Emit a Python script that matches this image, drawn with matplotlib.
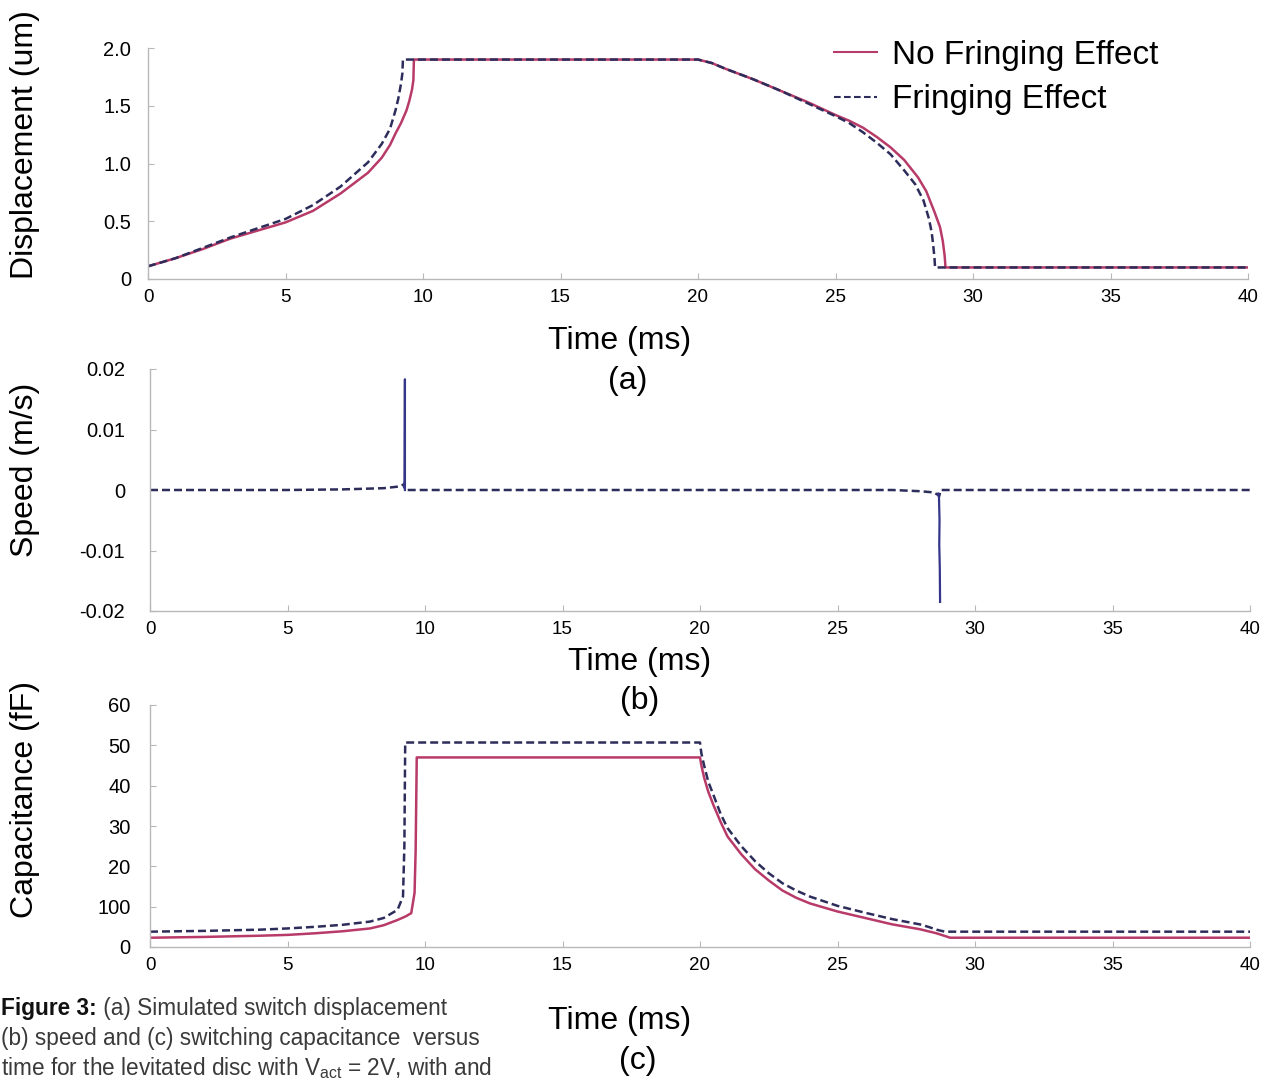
import matplotlib
matplotlib.use("Agg")
import matplotlib.pyplot as plt

plt.rcParams['font.family'] = ['Liberation Sans', 'DejaVu Sans']

W, H = 1265, 1081

# ---------------- data ----------------
# (a) displacement (um)
disp_nf_t = [0, 1, 2, 3, 4, 5, 6, 7, 8, 8.5, 8.8, 9, 9.2, 9.4, 9.5, 9.6, 9.65, 9.67, 15, 20, 20.5, 21, 22, 23,
             24, 25, 25.5, 26, 26.5, 27, 27.5, 28, 28.3, 28.6, 28.8, 28.9, 28.97, 29.0, 35, 40]
disp_nf_v = [0.11, 0.18, 0.26, 0.35, 0.42, 0.49, 0.59, 0.74, 0.92, 1.05, 1.16, 1.26, 1.35, 1.46, 1.54, 1.64,
             1.72, 1.90, 1.90, 1.90, 1.87, 1.82, 1.73, 1.63, 1.53, 1.42, 1.37, 1.31, 1.23, 1.14, 1.03, 0.88,
             0.76, 0.58, 0.45, 0.33, 0.20, 0.10, 0.10, 0.10]
disp_f_t = [0, 1, 2, 3, 4, 5, 6, 7, 8, 8.5, 8.8, 9.0, 9.1, 9.2, 9.25, 9.27, 15, 20, 20.5, 21, 22, 23, 24, 25,
            25.5, 26, 26.5, 27, 27.5, 27.9, 28.2, 28.4, 28.5, 28.55, 28.6, 28.62, 35, 40]
disp_f_v = [0.11, 0.18, 0.27, 0.36, 0.44, 0.52, 0.64, 0.80, 1.01, 1.17, 1.30, 1.46, 1.56, 1.69, 1.78, 1.90,
            1.90, 1.90, 1.87, 1.82, 1.73, 1.63, 1.52, 1.41, 1.35, 1.27, 1.18, 1.08, 0.94, 0.82, 0.68, 0.52,
            0.40, 0.30, 0.18, 0.10, 0.10, 0.10]

# (b) speed (m/s)
speed_t = [0, 5, 7, 8.5, 9.1, 9.25, 9.27, 15, 20, 25, 27, 28, 28.5, 28.65, 28.7, 28.75, 35, 40]
speed_v = [0, 0, 0.0001, 0.0003, 0.0006, 0.001, 0, 0, 0, 0, 0, -0.0002, -0.0004, -0.0008, -0.001, 0, 0, 0]
spike_up_t = [9.24, 9.26, 9.27, 9.27]
spike_up_v = [0.0005, 0.0015, 0.0183, 0.0]
spike_dn_t = [28.66, 28.69, 28.71, 28.70, 28.72, 28.73]
spike_dn_v = [-0.0006, -0.0012, -0.005, -0.009, -0.013, -0.0185]

# (c) capacitance (fF)
cap_nf_t = [0, 2, 4, 5, 6, 7, 8, 8.5, 9, 9.3, 9.5, 9.62, 9.66, 9.7, 20.0, 20.05, 20.15, 20.3, 20.5, 20.75, 21,
            21.5, 22, 22.5, 23, 23.5, 24, 25, 26, 27, 28, 28.6, 29.1, 35, 40]
cap_nf_v = [2.3, 2.5, 2.8, 3.0, 3.4, 3.9, 4.6, 5.4, 6.7, 7.6, 8.4, 13.4, 24, 47, 47, 45, 42, 38.5, 35, 31, 27.4,
            23, 19.3, 16.5, 14, 12.2, 10.8, 8.8, 7.2, 5.6, 4.4, 3.4, 2.3, 2.3, 2.3]
cap_f_t = [0, 2, 4, 5, 6, 7, 8, 8.5, 9, 9.2, 9.25, 9.28, 20.0, 20.05, 20.15, 20.3, 20.5, 20.75, 21, 21.5, 22,
           22.5, 23, 23.5, 24, 25, 26, 27, 28, 28.3, 28.6, 28.9, 35, 40]
cap_f_v = [3.8, 4.0, 4.3, 4.6, 5.0, 5.5, 6.3, 7.2, 9.2, 12.5, 25, 50.7, 50.7, 48, 45, 41, 37.5, 33, 29.5, 25,
           21.3, 18.3, 15.8, 14, 12.5, 10.2, 8.5, 6.9, 5.6, 5.0, 4.3, 3.8, 3.8, 3.8]

x_ticks = [0, 5, 10, 15, 20, 25, 30, 35, 40]
disp_ticks = [0, 0.5, 1.0, 1.5, 2.0]
disp_ticklabels = ['0', '0.5', '1.0', '1.5', '2.0']
speed_ticks = [-0.02, -0.01, 0, 0.01, 0.02]
speed_ticklabels = ['-0.02', '-0.01', '0', '0.01', '0.02']
cap_ticks = [0, 10, 20, 30, 40, 50, 60]
cap_ticklabels = ['0', '100', '20', '30', '40', '50', '60']

# ---------------- style ----------------
RED = '#b83a68'
NAVY = '#2d2d5c'
BLUE = '#35358a'
GREY = '#b8b8b8'
DASH = (0, (3.2, 1.6))

fig = plt.figure(figsize=(W / 100, H / 100), dpi=100)


def make_ax(left_px, right_px, top_px, bottom_px):
    return fig.add_axes([left_px / W, 1 - bottom_px / H, (right_px - left_px) / W, (bottom_px - top_px) / H])


def style(ax, ypad):
    for s in ['top', 'right']:
        ax.spines[s].set_visible(False)
    for s in ['left', 'bottom']:
        ax.spines[s].set_color(GREY)
        ax.spines[s].set_linewidth(1.0)
    ax.tick_params(axis='both', direction='in', length=4, width=0.8, color=GREY)
    ax.tick_params(axis='x', pad=7, labelsize=13.5)
    ax.tick_params(axis='y', pad=ypad, labelsize=14.5)
    ax.set_xlim(0, 40)
    ax.set_xticks(x_ticks)
    ax.set_xticklabels([str(v) for v in x_ticks])


# (a)
ax1 = make_ax(148, 1248, 48, 279)
style(ax1, 12)
ax1.plot(disp_nf_t, disp_nf_v, color=RED, lw=1.8, label='No Fringing Effect')
ax1.plot(disp_f_t, disp_f_v, color=NAVY, lw=1.8, ls=DASH, label='Fringing Effect')
ax1.set_ylim(0, 2.0)
ax1.set_yticks(disp_ticks)
ax1.set_yticklabels(disp_ticklabels)
leg = ax1.legend(loc='upper left', bbox_to_anchor=(834 / W, 1 - 40 / H), bbox_transform=fig.transFigure,
                 frameon=False, fontsize=24, handlelength=1.3, handletextpad=0.45, labelspacing=0.4,
                 borderpad=0, borderaxespad=0)
for line in leg.get_lines():
    line.set_linewidth(1.5)

# (b)
ax2 = make_ax(150, 1250, 369, 611)
style(ax2, 18)
ax2.plot(speed_t, speed_v, color=NAVY, lw=1.8, ls=DASH)
ax2.plot(spike_up_t, spike_up_v, color=BLUE, lw=1.6)
ax2.plot(spike_dn_t, spike_dn_v, color=BLUE, lw=1.6)
ax2.set_ylim(-0.02, 0.02)
ax2.set_yticks(speed_ticks)
ax2.set_yticklabels(speed_ticklabels)

# (c)
ax3 = make_ax(150, 1250, 705, 947)
style(ax3, 14)
ax3.plot(cap_nf_t, cap_nf_v, color=RED, lw=1.8)
ax3.plot(cap_f_t, cap_f_v, color=NAVY, lw=1.8, ls=DASH)
ax3.set_ylim(0, 60)
ax3.set_yticks(cap_ticks)
ax3.set_yticklabels(cap_ticklabels)


def ftext(x, y, s, **kw):
    return fig.text(x / W, 1 - y / H, s, **kw)


ftext(25, 145, 'Displacement (um)', rotation=90, ha='center', va='center', fontsize=23)
ftext(25, 470, 'Speed (m/s)', rotation=90, ha='center', va='center', fontsize=23)
ftext(25, 800, 'Capacitance (fF)', rotation=90, ha='center', va='center', fontsize=23)

ftext(620, 341, 'Time (ms)', ha='center', va='center', fontsize=23)
ftext(628, 381, '(a)', ha='center', va='center', fontsize=23)
ftext(640, 662, 'Time (ms)', ha='center', va='center', fontsize=23)
ftext(640, 701, '(b)', ha='center', va='center', fontsize=23)
ftext(620, 1021, 'Time (ms)', ha='center', va='center', fontsize=23)
ftext(638, 1061, '(c)', ha='center', va='center', fontsize=23)

# caption
CAP = '#3a3a3a'
t1 = ftext(1, 1008, 'Figure 3:', ha='left', va='center', fontsize=16.3, fontweight='bold', color='#111111')
fig.add_artist(matplotlib.text.Annotation(' (a) Simulated switch displacement', xy=(1, 0.5), xycoords=t1,
                                          xytext=(0, 0), textcoords='offset points', va='center',
                                          fontsize=16.3, color=CAP))
ftext(1, 1038, '(b) speed and (c) switching capacitance  versus', ha='left', va='center', fontsize=16.3,
      color=CAP)
ftext(1, 1068, r'time for the levitated disc with $\mathregular{V_{act}}$ = 2V, with and', ha='left',
      va='center', fontsize=16.3, color=CAP)

fig.savefig('out.png', dpi=100)
